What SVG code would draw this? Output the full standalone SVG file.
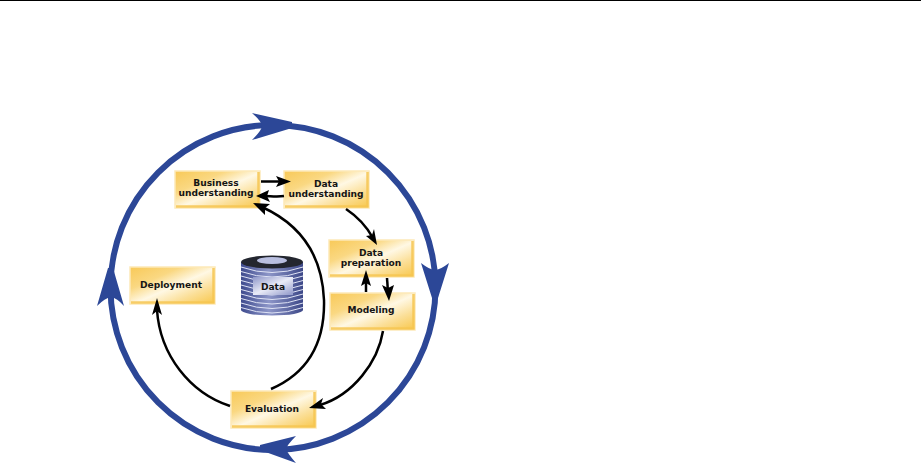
<svg xmlns="http://www.w3.org/2000/svg" width="921" height="463" viewBox="0 0 921 463">
<style>
text{font-family:"DejaVu Sans",Verdana,sans-serif;font-weight:bold;font-size:9.1px;fill:#151515;text-anchor:middle}
.box{fill:url(#gold);stroke:#fde9b8;stroke-width:1.5}
.bev{fill:none;stroke:#f6c651;stroke-width:2.5;opacity:.85}
.blue{fill:none;stroke:#2c4797;stroke-width:6}
.head{fill:#2c4797}
.k{fill:none;stroke:#000;stroke-width:2.5}
.ah{fill:#000}
</style>
<defs>
<linearGradient id="gold" x1="0" y1="0" x2="1" y2="1">
<stop offset="0" stop-color="#f8c958"/><stop offset=".3" stop-color="#fad882"/><stop offset=".52" stop-color="#fff8e4"/><stop offset=".74" stop-color="#fbdf98"/><stop offset="1" stop-color="#f8c648"/>
</linearGradient>
<linearGradient id="cyl" x1="0" y1="0" x2="1" y2="0">
<stop offset="0" stop-color="#3f4b8e"/><stop offset=".45" stop-color="#8d96c8"/><stop offset="1" stop-color="#3d4888"/>
</linearGradient>
<linearGradient id="lab" x1="0" y1="0" x2="1" y2="1">
<stop offset="0" stop-color="#8f97c9"/><stop offset=".5" stop-color="#e9ebf7"/><stop offset="1" stop-color="#8f97c9"/>
</linearGradient>
</defs>
<rect width="921" height="1" fill="#000"/>
<g id="cycle">
<circle class="blue" cx="273" cy="287.500" r="162.500"/>
<path class="head" d="M252 113L292 122V128L252 140Q262 130 262 126Q262 122 252 113Z"/>
<path class="head" d="M421 263Q430 270 435 270Q440 270 449 263L438 298H432Z"/>
<path class="head" d="M296 436Q287 445 286 449Q288 454 296 463L260 450V445Z"/>
<path class="head" d="M97 306Q105 298 111 297Q117 298 124 306L113 268H108Z"/>
</g>
<g id="business-understanding"><rect class="box" x="175" y="171" width="85" height="37"/><path class="bev" d="M258.500 172V206.500H176"/><text x="216" y="186">Business</text><text x="216" y="196">understanding</text></g>
<g id="data-understanding"><rect class="box" x="284" y="171" width="85" height="37"/><path class="bev" d="M367.500 172V206.500H285"/><text x="326" y="187">Data</text><text x="326" y="197">understanding</text></g>
<g id="data-preparation"><rect class="box" x="329" y="240" width="85" height="37"/><path class="bev" d="M412.500 241V275.500H330"/><text x="371" y="256">Data</text><text x="371" y="266">preparation</text></g>
<g id="modeling"><rect class="box" x="330" y="293" width="85" height="37"/><path class="bev" d="M413.500 294V328.500H331"/><text x="371" y="313">Modeling</text></g>
<g id="deployment"><rect class="box" x="130" y="267" width="85" height="37"/><path class="bev" d="M213.500 268V302.500H131"/><text x="171" y="288">Deployment</text></g>
<g id="evaluation"><rect class="box" x="231" y="391" width="85" height="37"/><path class="bev" d="M314.500 392V426.500H232"/><text x="272" y="412">Evaluation</text></g>
<g id="data">
<rect x="241" y="262" width="62" height="48" fill="url(#cyl)"/>
<ellipse cx="272" cy="310" rx="31" ry="5.500" fill="url(#cyl)"/>
<path d="M241 267q31 11 62 0M241 271.500q31 11 62 0M241 276q31 11 62 0M241 280.500q31 11 62 0M241 285q31 11 62 0M241 289.500q31 11 62 0M241 294q31 11 62 0M241 298.500q31 11 62 0M241 303q31 11 62 0M241 307.500q31 11 62 0" fill="none" stroke="#dfe3f5" stroke-width="1"/>
<ellipse cx="272" cy="262" rx="31" ry="6.500" fill="#23262f"/>
<ellipse cx="272" cy="260.500" rx="15" ry="3.500" fill="#b9bfe0"/>
<rect x="253" y="277" width="40" height="18" fill="url(#lab)"/>
<text x="273" y="290">Data</text>
</g>
<g id="connectors">
<path class="k" d="M261 181.500H280"/><polygon class="ah" points="276,176 291,181.500 276,187 279,181.500"/>
<path class="k" d="M284 196C277 197 270 196 264 196"/><polygon class="ah" points="256,196 269,190 267,196 270,202"/>
<path class="k" d="M346 209C358 217 368 229 373 238"/><polygon class="ah" points="377,245 366,236 372,235 374,229"/>
<path class="k" d="M366 292V279"/><polygon class="ah" points="366,270 371,286 366,283 361,286"/>
<path class="k" d="M387 278L388 292"/><polygon class="ah" points="389,301 382,285 388,288 394,285"/>
<path class="k" d="M383 331C378 362 353 395 320 405"/><polygon class="ah" points="309,408 323,398 321,404 326,409"/>
<path class="k" d="M271 389C310 372 325 340 324 300C322 250 295 222 262 207"/><polygon class="ah" points="253,203 270,204 265,208 265,215"/>
<path class="k" d="M230 406C190 393 160 355 157 310"/><polygon class="ah" points="157,298 162,315 157,311 152,315"/>
</g>
</svg>
